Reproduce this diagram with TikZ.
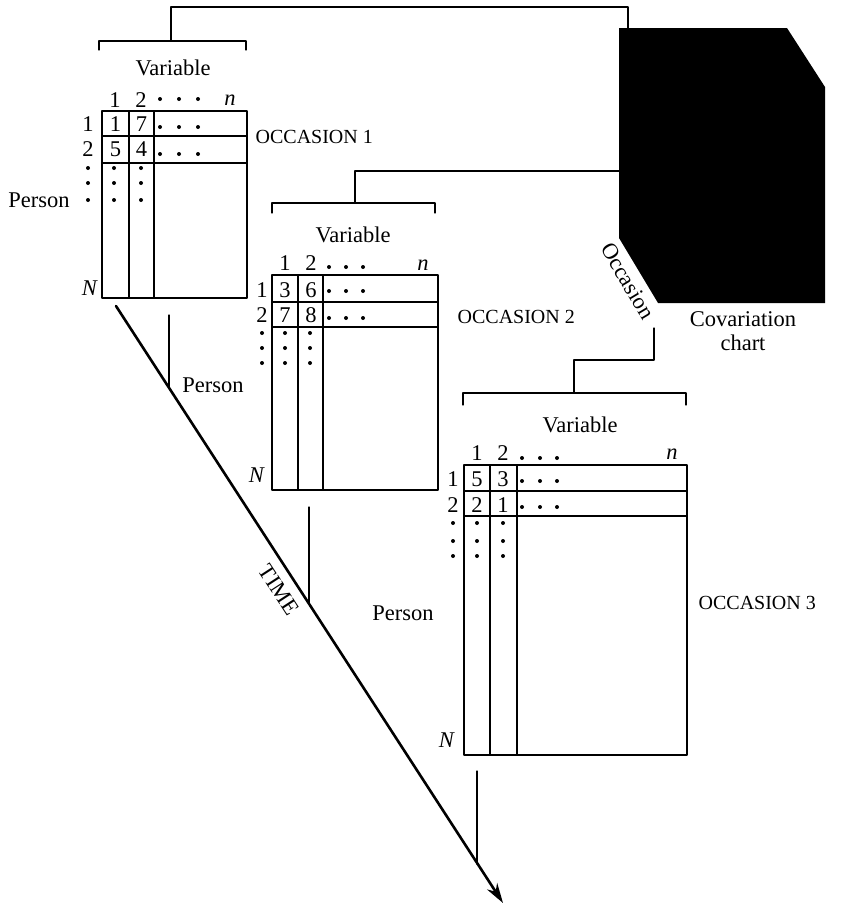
\documentclass[tikz,border=0pt]{standalone}
\usepackage{fontspec}
\setmainfont{Liberation Serif}
\usetikzlibrary{arrows.meta}

\begin{document}
\begin{tikzpicture}[x=1pt, y=-1pt, line width=1.3pt, line cap=round, line join=round,
  txt/.style={anchor=center, inner sep=0pt, font=\fontsize{22.5}{24}\selectfont},
  occ/.style={anchor=west, inner sep=0pt, font=\fontsize{20}{24}\selectfont}]

  %% ════ 协变立方体（实心）════
  \fill (619,28) -- (787,28) -- (825,87) -- (825,303) -- (658,303) -- (619,238) -- cycle;
  \node[txt, rotate=-59] (occax) at (628,281) {Occasion};
  \node[txt, align=center] (cov) at (743,331) {Covariation\\chart};

  %% ════ 矩阵 1 ════
  \draw (102,111) rectangle (247,298);
  \draw (129,111) -- (129,298) (154,111) -- (154,298);
  \draw (102,136) -- (247,136) (102,163) -- (247,163);
  \draw (99,50) -- (99,41) -- (246,41) -- (246,50);
  \node[txt] (m1var) at (173,68) {Variable};
  \node[txt] (m1c1) at (115,100) {1};
  \node[txt] (m1c2) at (141,100) {2};
  \node[txt] (m1cn) at (230,100) {\textit{n}};
  \node[txt] (m1r1) at (88,124.5) {1};
  \node[txt] (m1r2) at (88,149.5) {2};
  \node[txt] (m1a) at (115.5,124.5) {1};
  \node[txt] (m1b) at (141.5,124.5) {7};
  \node[txt] (m1c) at (115.5,149.5) {5};
  \node[txt] (m1d) at (141.5,149.5) {4};
  \node[txt] (m1N) at (90,288) {\textit{N}};
  \node[txt] (m1per) at (39,200) {Person};
  \node[occ] (occ1) at (255,137) {OCCASION 1};
  \fill (160,99) circle (2) (179,99) circle (2) (198,99) circle (2)
        (160,127) circle (2) (179,127) circle (2) (198,127) circle (2)
        (160,154) circle (2) (179,154) circle (2) (198,154) circle (2)
        (88,168) circle (2) (88,183) circle (2) (88,200) circle (2)
        (114,168) circle (2) (114,183) circle (2) (114,200) circle (2)
        (141,168) circle (2) (141,183) circle (2) (141,200) circle (2);

  %% ════ 矩阵 2 ════
  \draw (272,275) rectangle (438,490);
  \draw (298,275) -- (298,490) (323,275) -- (323,490);
  \draw (272,302) -- (438,302) (272,327) -- (438,327);
  \draw (272,213) -- (272,203) -- (435,203) -- (435,213);
  \node[txt] (m2var) at (353,235) {Variable};
  \node[txt] (m2c1) at (285,263) {1};
  \node[txt] (m2c2) at (311,263) {2};
  \node[txt] (m2cn) at (423,265) {\textit{n}};
  \node[txt] (m2r1) at (262,290) {1};
  \node[txt] (m2r2) at (262,315) {2};
  \node[txt] (m2a) at (285,290) {3};
  \node[txt] (m2b) at (311,290) {6};
  \node[txt] (m2c) at (285,315) {7};
  \node[txt] (m2d) at (311,315) {8};
  \node[txt] (m2N) at (257,475) {\textit{N}};
  \node[txt] (m2per) at (213,385) {Person};
  \node[occ] (occ2) at (457,317) {OCCASION 2};
  \fill (329,267) circle (2) (346,267) circle (2) (363,267) circle (2)
        (329,291) circle (2) (346,291) circle (2) (363,291) circle (2)
        (329,318) circle (2) (346,318) circle (2) (363,318) circle (2)
        (262,333) circle (2) (262,348) circle (2) (262,363) circle (2)
        (285,333) circle (2) (285,348) circle (2) (285,363) circle (2)
        (310,333) circle (2) (310,348) circle (2) (310,363) circle (2);

  %% ════ 矩阵 3 ════
  \draw (464,465) rectangle (687,755);
  \draw (490,465) -- (490,755) (517,465) -- (517,755);
  \draw (464,491) -- (687,491) (464,516) -- (687,516);
  \draw (463,405) -- (463,393) -- (686,393) -- (686,405);
  \node[txt] (m3var) at (580,425) {Variable};
  \node[txt] (m3c1) at (477,453) {1};
  \node[txt] (m3c2) at (503,453) {2};
  \node[txt] (m3cn) at (672,454) {\textit{n}};
  \node[txt] (m3r1) at (453,479) {1};
  \node[txt] (m3r2) at (453,505) {2};
  \node[txt] (m3a) at (477,479) {5};
  \node[txt] (m3b) at (503,479) {3};
  \node[txt] (m3c) at (477,505) {2};
  \node[txt] (m3d) at (503,505) {1};
  \node[txt] (m3N) at (447,740) {\textit{N}};
  \node[txt] (m3per) at (403,613) {Person};
  \node[occ] (occ3) at (698,603) {OCCASION 3};
  \fill (522,458) circle (2) (540,458) circle (2) (557,458) circle (2)
        (522,481) circle (2) (540,481) circle (2) (557,481) circle (2)
        (522,507) circle (2) (540,507) circle (2) (557,507) circle (2)
        (453,523) circle (2) (453,541) circle (2) (453,556) circle (2)
        (477,523) circle (2) (477,541) circle (2) (477,556) circle (2)
        (503,523) circle (2) (503,541) circle (2) (503,556) circle (2);

  %% ════ 括号 → 立方体 的连线 ════
  \coordinate (br1) at (171,41);
  \coordinate (k1) at (628,7);
  \coordinate (cubeT) at (628,28);
  \coordinate (br2) at (355,203);
  \coordinate (cubeL) at (619,171);
  \coordinate (br3) at (574,393);
  \coordinate (k3) at (654,360);
  \coordinate (occE) at (654,328);
  \draw (br1) |- (k1) -- (cubeT);
  \draw (br2) |- (cubeL);
  \draw (br3) |- (k3) -- (occE);

  %% ════ 时间轴 ════
  \coordinate (t0) at (116,306);
  \coordinate (t1) at (503,903);
  \draw[line width=2.6pt, -{Stealth[length=20pt, width=12pt]}] (t0) -- (t1);
  \node[txt, rotate=-57] (time) at (279,590) {TIME};
  \coordinate (m1s) at (169,315);
  \coordinate (m1t) at (169,388);
  \coordinate (m2s) at (309,507);
  \coordinate (m2t) at (309,604);
  \coordinate (m3s) at (477,771);
  \coordinate (m3t) at (477,864);
  \draw (m1s) -- (m1t);
  \draw (m2s) -- (m2t);
  \draw (m3s) -- (m3t);

  % 钉死画布
  \pgfresetboundingbox
  \path[use as bounding box] (0,0) rectangle (849,905);
\end{tikzpicture}
\end{document}
